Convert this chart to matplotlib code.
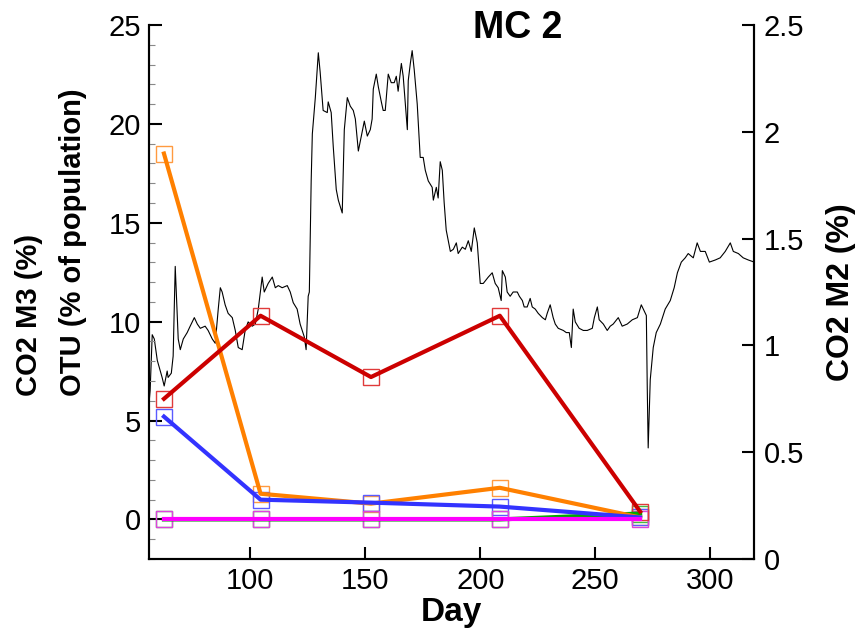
import matplotlib
matplotlib.use('Agg')
import matplotlib.pyplot as plt
from matplotlib.ticker import MultipleLocator, FuncFormatter

plt.rcParams['font.family'] = ['Liberation Sans', 'DejaVu Sans']

# CO2 M2 trace (right axis): day, percent
co2_day = [56.1, 56.5, 57.4, 58.3, 59.6, 60.4, 61.7, 62.6, 63.9, 64.3, 65.7, 66.5, 67.4, 68.3, 68.7,
           69.6, 70.9, 72.6, 73.9, 75.7, 77.0, 78.3, 80.4, 81.7, 83.5, 84.8, 86.1, 87.0, 87.8, 89.1,
           90.4, 92.2, 93.5, 94.8, 96.5, 97.8, 99.1, 100.9, 102.2, 103.5, 105.2, 106.1, 107.8, 109.6,
           110.9, 112.2, 113.9, 116.1, 117.4, 118.7, 120.4, 121.7, 123.5, 124.3, 125.2, 125.7, 126.5,
           127.0, 128.3, 129.6, 130.4, 131.7, 133.5, 133.9, 135.2, 136.1, 137.4, 138.3, 140.0, 140.9,
           142.2, 143.5, 144.8, 145.7, 147.0, 148.3, 149.6, 150.9, 152.2, 153.0, 153.5, 154.8, 155.7,
           157.0, 157.8, 158.7, 160.0, 161.3, 162.6, 163.5, 164.3, 165.7, 166.5, 168.3, 168.7, 169.6,
           170.4, 171.3, 172.6, 173.9, 175.2, 176.1, 177.4, 179.1, 179.6, 180.9, 181.7, 182.6, 183.5,
           184.3, 185.2, 186.1, 187.0, 188.3, 189.6, 190.4, 192.2, 193.5, 194.8, 196.1, 197.4, 198.7,
           200.0, 201.3, 203.5, 205.2, 206.5, 207.8, 209.1, 209.6, 210.9, 211.7, 213.0, 214.3, 216.1,
           217.0, 218.3, 219.1, 220.4, 221.7, 222.6, 223.9, 225.2, 227.0, 228.3, 229.1, 230.4, 231.7,
           232.6, 233.9, 236.1, 237.4, 238.7, 239.6, 240.4, 241.3, 243.0, 244.8, 246.5, 248.7, 249.6,
           250.9, 251.7, 253.5, 255.2, 256.5, 257.8, 260.0, 261.7, 263.9, 266.1, 268.3, 270.0, 270.9,
           272.2, 272.6, 273.0, 273.9, 275.2, 276.5, 278.3, 280.4, 282.6, 284.3, 285.7, 287.4, 289.1,
           290.4, 292.6, 294.3, 295.7, 297.8, 299.6, 302.2, 304.3, 306.5, 308.7, 310.0, 312.2, 314.3,
           316.5, 319.1]
co2_m2 = [0.74, 0.79, 1.05, 1.03, 0.93, 0.90, 0.85, 0.81, 0.88, 0.85, 0.87, 0.95, 1.37, 1.13, 1.03,
          0.98, 1.03, 1.06, 1.09, 1.13, 1.10, 1.08, 1.09, 1.07, 1.03, 1.01, 1.17, 1.27, 1.25, 1.19,
          1.15, 1.13, 1.07, 0.99, 0.98, 1.07, 1.11, 1.09, 1.10, 1.17, 1.32, 1.25, 1.29, 1.32,
          1.27, 1.28, 1.27, 1.28, 1.25, 1.20, 1.17, 1.10, 1.04, 0.98, 1.23, 1.25, 1.77,
          1.99, 2.16, 2.37, 2.28, 2.10, 2.09, 2.14, 2.09, 1.93, 1.73, 1.68, 1.62, 2.01,
          2.16, 2.12, 2.10, 2.06, 1.91, 1.98, 2.05, 1.98, 2.01, 2.06, 2.20, 2.27, 2.21,
          2.14, 2.10, 2.10, 2.27, 2.23, 2.23, 2.26, 2.19, 2.32, 2.26, 2.01, 2.24, 2.32,
          2.38, 2.29, 2.13, 1.88, 1.88, 1.82, 1.77, 1.74, 1.68, 1.74, 1.69, 1.86, 1.82,
          1.67, 1.54, 1.49, 1.44, 1.45, 1.48, 1.43, 1.46, 1.45, 1.49, 1.44, 1.55, 1.48,
          1.29, 1.29, 1.32, 1.34, 1.29, 1.27, 1.21, 1.35, 1.32, 1.25, 1.23, 1.25, 1.25,
          1.23, 1.21, 1.18, 1.18, 1.22, 1.18, 1.17, 1.15, 1.13, 1.12, 1.15, 1.19, 1.13,
          1.10, 1.08, 1.07, 1.06, 1.06, 0.99, 1.17, 1.11, 1.08, 1.07, 1.07, 1.08, 1.13,
          1.18, 1.12, 1.10, 1.07, 1.09, 1.10, 1.13, 1.09, 1.10, 1.12, 1.13, 1.19, 1.17,
          1.14, 0.80, 0.52, 0.84, 0.99, 1.06, 1.10, 1.17, 1.21, 1.27, 1.34, 1.39, 1.41,
          1.43, 1.41, 1.48, 1.44, 1.44, 1.39, 1.40, 1.41, 1.44, 1.48, 1.44, 1.43, 1.41,
          1.40, 1.39]

# OTU abundances (left axis)
otu_day = [62.5, 104.5, 152.5, 208.5, 269.5]
otu_orange = [18.5, 1.3, 0.8, 1.6, 0.1]
otu_red = [6.1, 10.3, 7.2, 10.3, 0.4]
otu_blue = [5.2, 1.0, 0.85, 0.65, 0.1]
otu_green = [0, 0, 0, 0, 0.3]
otu_magenta = [0, 0, 0, 0, 0]

fig = plt.figure(figsize=(8.64, 6.28), dpi=100)
ax = fig.add_axes([149/864, 1-559/628, 605/864, 534/628])
ax2 = ax.twinx()
ax.set_zorder(ax2.get_zorder() + 1)
ax.patch.set_visible(False)

ax2.plot(co2_day, co2_m2, color='black', lw=0.8)

series = [
    (otu_green, '#00aa00', '#44bb44', 3),
    (otu_orange, '#ff8000', '#ff9a40', 4),
    (otu_blue, '#3333ff', '#5a5aff', 5),
    (otu_magenta, '#ff00ff', '#dd44dd', 6),
    (otu_red, '#cc0000', '#e03a3a', 7),
]
for vals, lc, mc, z in series:
    ax.plot(otu_day, vals, color=lc, lw=3, zorder=z)
    ax.plot(otu_day, vals, ls='none', marker='s', ms=11, mfc='none', mec=mc, mew=1, zorder=2)

ax.set_xlim(56, 319)
ax.set_ylim(-2, 25)
ax2.set_ylim(0, 2.5)
ax.set_xticks([100, 150, 200, 250, 300])
ax.set_yticks([0, 5, 10, 15, 20, 25])
ax.yaxis.set_minor_locator(MultipleLocator(1))
ax2.set_yticks([0, 0.5, 1, 1.5, 2, 2.5])
ax2.yaxis.set_major_formatter(FuncFormatter(lambda v, p: '%g' % v))

for a in (ax, ax2):
    a.spines['top'].set_visible(False)
    for s in ('left', 'right', 'bottom'):
        a.spines[s].set_linewidth(1.5)
ax.tick_params(axis='both', which='major', direction='in', length=9, width=1.5, labelsize=21, pad=6)
ax.tick_params(axis='y', which='minor', direction='in', length=4, width=0.8, color='#888888')
ax2.tick_params(axis='y', which='major', direction='in', length=9, width=1.5, labelsize=21, pad=7)

ax.set_xlabel('Day', fontsize=24, fontweight='bold', labelpad=1)
ax.set_ylabel('CO2 M3 (%)\nOTU (% of population)', fontsize=21, fontweight='bold',
              multialignment='left', linespacing=1.7)
ax.yaxis.label.set_rotation_mode('anchor')
ax.yaxis.label.set_horizontalalignment('left')
ax.yaxis.label.set_verticalalignment('bottom')
ax.yaxis.set_label_coords(-0.103, 0.305)
ax2.set_ylabel('CO2 M2 (%)', fontsize=23, fontweight='bold', labelpad=16)

fig.text(518/864, 1-28/628, 'MC 2', fontsize=27, fontweight='bold', ha='center', va='center')

fig.savefig('out.png', dpi=100)
